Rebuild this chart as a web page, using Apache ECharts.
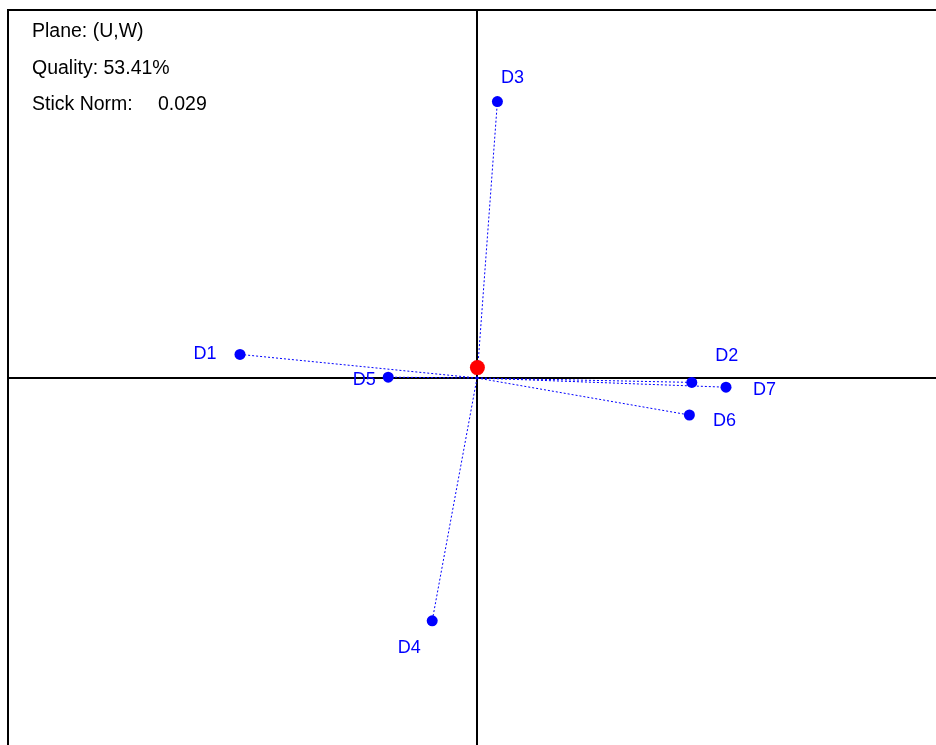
<!DOCTYPE html>
<html>
<head>
<meta charset="utf-8">
<script src="https://cdn.jsdelivr.net/npm/echarts@6/dist/echarts.min.js"></script>
<style>
html,body{margin:0;padding:0;background:#fff;}
#chart{width:936px;height:745px;}
</style>
</head>
<body>
<div id="chart"></div>
<script>
// Data
var names = ['D1','D2','D3','D4','D5','D6','D7'];
var xVals = [-0.5925, 0.537, 0.051, -0.112, -0.222, 0.531, 0.6225];
var yVals = [0.059, -0.011, 0.691, -0.607, 0.002, -0.0925, -0.023];
var centerPoint = [0.001, 0.026];
var infoLines = ['Plane: (U,W)', 'Quality: 53.41%', 'Stick Norm:'];
var stickNormValue = '0.029';

// label placement (style) per point
var labelOffsets = {
  D1: [-35, 0], D2: [35, -26], D3: [15, -24], D4: [-23, 27],
  D5: [-24, 3], D6: [35, 6.5], D7: [38.5, 2.7]
};

var chart = echarts.init(document.getElementById('chart'), null, {renderer: 'canvas'});
var blue = '#0000ff';
var font = '"Liberation Sans", Arial, Helvetica, sans-serif';
var infoFont = '19.5px ' + font;

var pts = names.map(function (n, i) {
  return {
    name: n,
    value: [xVals[i], yVals[i]],
    label: {offset: labelOffsets[n]}
  };
});
var sticks = names.map(function (n, i) {
  return {coords: [[0, 0], [xVals[i], yVals[i]]]};
});

var option = {
  animation: false,
  backgroundColor: '#fff',
  grid: {
    left: 8, top: 10, width: 938, height: 736,
    outerBoundsMode: 'none', containLabel: false,
    show: true, borderColor: '#000', borderWidth: 2, backgroundColor: 'transparent'
  },
  xAxis: {
    type: 'value', min: -1.1725, max: 1.1725,
    axisLine: {onZero: true, lineStyle: {color: '#000', width: 2}},
    axisTick: {show: false}, axisLabel: {show: false}, splitLine: {show: false}
  },
  yAxis: {
    type: 'value', min: -0.92, max: 0.92,
    axisLine: {onZero: true, lineStyle: {color: '#000', width: 2}},
    axisTick: {show: false}, axisLabel: {show: false}, splitLine: {show: false}
  },
  graphic: [
    {type: 'text', left: 32, top: 22, style: {text: infoLines[0], font: infoFont, fill: '#000'}},
    {type: 'text', left: 32, top: 59, style: {text: infoLines[1], font: infoFont, fill: '#000'}},
    {type: 'text', left: 32, top: 95, style: {text: infoLines[2], font: infoFont, fill: '#000'}},
    {type: 'text', left: 158, top: 95, style: {text: stickNormValue, font: infoFont, fill: '#000'}}
  ],
  series: [
    {
      type: 'lines', coordinateSystem: 'cartesian2d', polyline: false,
      data: sticks, silent: true, z: 3,
      lineStyle: {color: blue, width: 1, type: [2, 2], opacity: 1}
    },
    {
      type: 'scatter', data: pts, symbol: 'circle', symbolSize: 11, z: 4,
      itemStyle: {color: blue, opacity: 1},
      label: {
        show: true, position: 'inside', formatter: '{b}',
        color: blue, fontSize: 18, fontFamily: font, align: 'center', verticalAlign: 'middle'
      }
    },
    {
      type: 'scatter', data: [centerPoint], symbol: 'circle', symbolSize: 15, z: 5,
      itemStyle: {color: '#ff0000', opacity: 1}
    }
  ]
};
chart.setOption(option);
</script>
</body>
</html>
